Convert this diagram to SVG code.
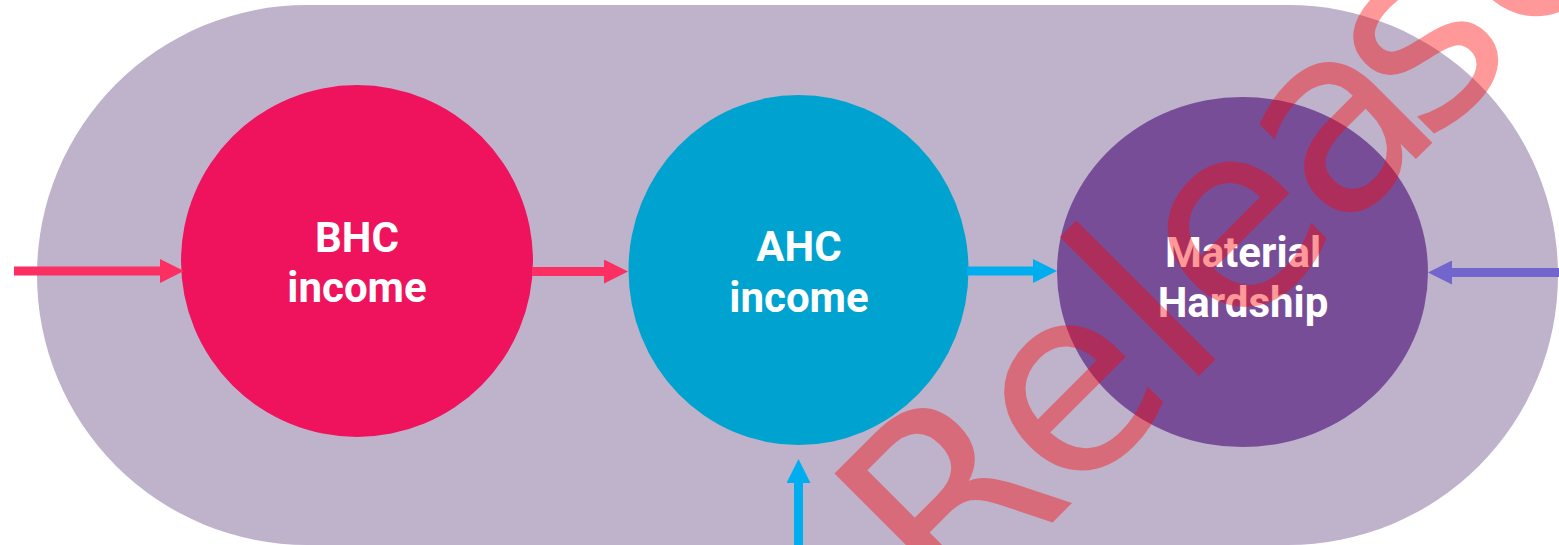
<svg xmlns="http://www.w3.org/2000/svg" width="1559" height="545" viewBox="0 0 1559 545">
  <style>
    .label { font-family: Roboto, "Liberation Sans", sans-serif; font-weight: 700; font-size: 42px; fill: #ffffff; text-anchor: middle; }
    .link { fill: none; stroke-width: 9; stroke-linecap: butt; }
    .pink { stroke: #fc2f63; }
    .blue { stroke: #00aeef; }
    .violet { stroke: #7265cb; }
    .stamp { font-family: "DejaVu Sans", Verdana, sans-serif; font-size: 259px; fill: #ff0000; fill-opacity: 0.4; }
  </style>
  <defs>
    <marker id="head-pink" markerUnits="userSpaceOnUse" markerWidth="24" markerHeight="24" refX="1" refY="12" orient="auto">
      <path d="M0,0 L24,12 L0,24 z" fill="#fc2f63"/>
    </marker>
    <marker id="head-blue" markerUnits="userSpaceOnUse" markerWidth="24" markerHeight="24" refX="1" refY="12" orient="auto">
      <path d="M0,0 L24,12 L0,24 z" fill="#00aeef"/>
    </marker>
    <marker id="head-violet" markerUnits="userSpaceOnUse" markerWidth="24" markerHeight="24" refX="1" refY="12" orient="auto">
      <path d="M0,0 L24,12 L0,24 z" fill="#7265cb"/>
    </marker>
  </defs>

  <!-- enclosing band -->
  <rect id="band" x="37" y="5" width="1521" height="540" rx="270" ry="270" fill="#bfb2cb"/>

  <g id="bhc">
    <circle cx="357" cy="261" r="176" fill="#ee135c"/>
    <text class="label" x="357" y="252">BHC</text>
    <text class="label" x="357" y="302">income</text>
  </g>

  <g id="ahc">
    <ellipse cx="798.5" cy="270" rx="170" ry="175" fill="#00a3cf"/>
    <text class="label" x="799" y="261">AHC</text>
    <text class="label" x="799" y="312">income</text>
  </g>

  <g id="hardship">
    <ellipse cx="1242.5" cy="272" rx="185.5" ry="175" fill="#774d98"/>
    <text class="label" x="1243" y="267">Material</text>
    <text class="label" x="1243" y="317">Hardship</text>
  </g>

  <g id="connectors">
    <line class="link pink" x1="14" y1="271" x2="161" y2="271" marker-end="url(#head-pink)"/>
    <line class="link pink" x1="532" y1="271.5" x2="605" y2="271.5" marker-end="url(#head-pink)"/>
    <line class="link blue" x1="967" y1="271" x2="1034" y2="271" marker-end="url(#head-blue)"/>
    <line class="link violet" x1="1559" y1="272.5" x2="1451" y2="272.5" marker-end="url(#head-violet)"/>
    <line class="link blue" x1="798.5" y1="545" x2="798.5" y2="482" marker-end="url(#head-blue)"/>
  </g>

  <!-- status stamp laid over the whole page -->
  <text id="stamp" class="stamp" transform="translate(950,625) rotate(-45)">Rele<tspan dx="-12">a</tspan><tspan dx="-30">se</tspan></text>
</svg>
